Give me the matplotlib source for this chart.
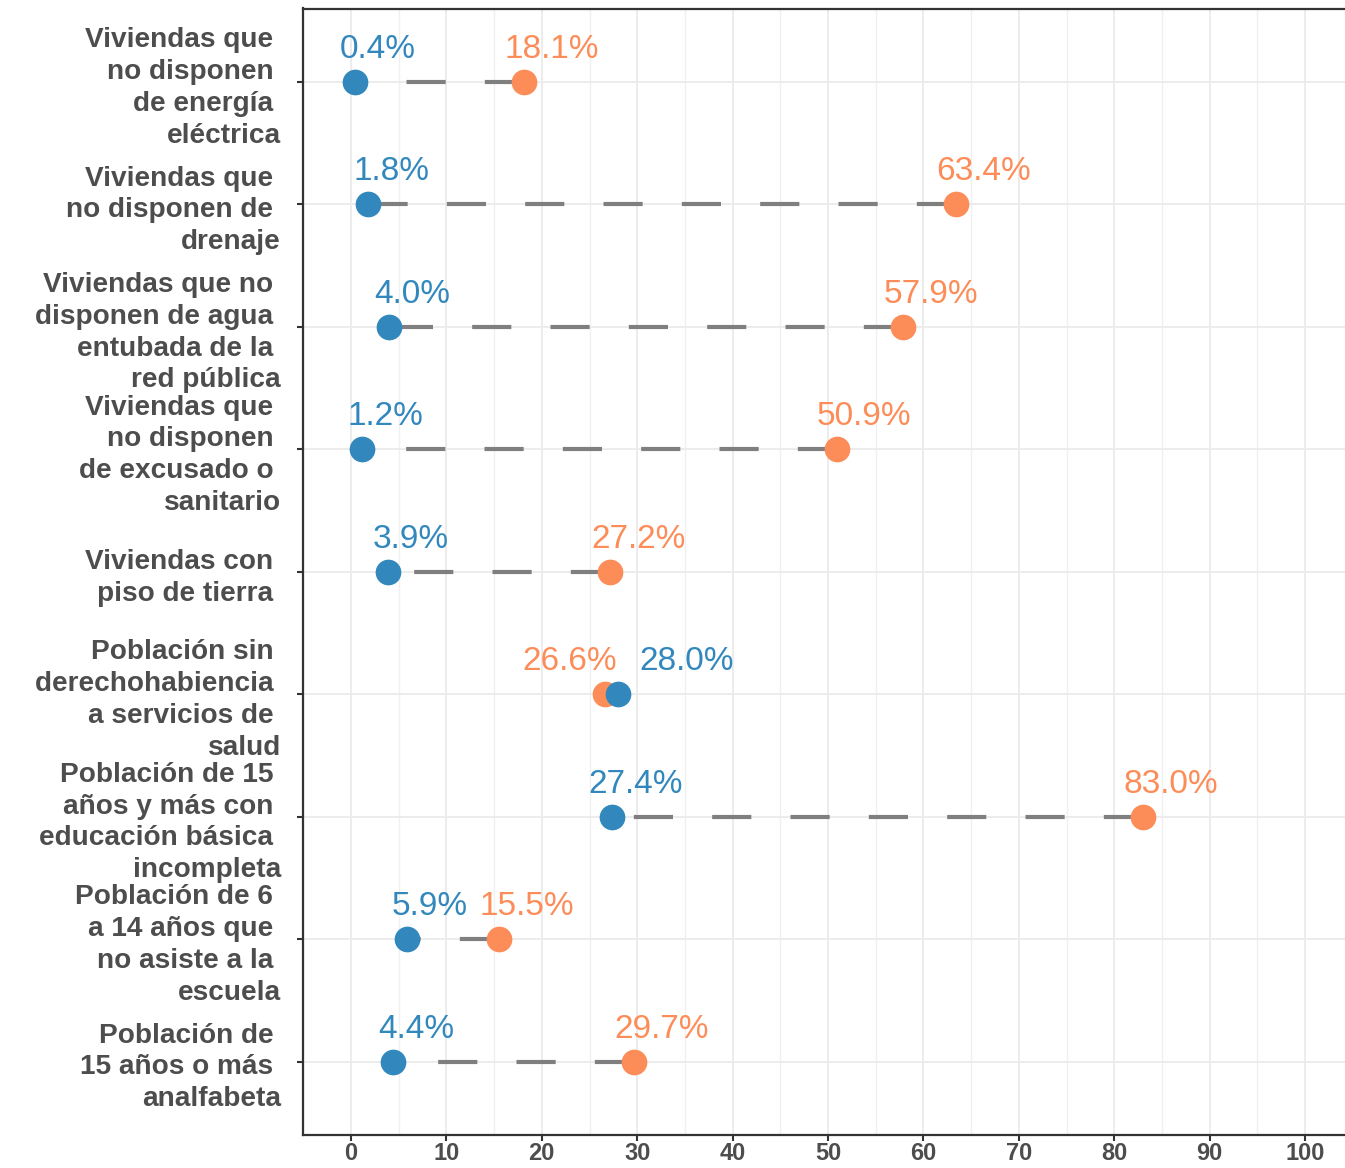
import matplotlib
matplotlib.use("Agg")
import matplotlib.pyplot as plt
from matplotlib.ticker import MultipleLocator

categories = [
    "Viviendas que \nno disponen \nde energía \neléctrica",
    "Viviendas que \nno disponen de \ndrenaje",
    "Viviendas que no \ndisponen de agua \nentubada de la \nred pública",
    "Viviendas que \nno disponen \nde excusado o \nsanitario",
    "Viviendas con \npiso de tierra ",
    "Población sin \nderechohabiencia \na servicios de \nsalud",
    "Población de 15 \naños y más con \neducación básica \nincompleta",
    "Población de 6 \na 14 años que \nno asiste a la \nescuela",
    "Población de \n15 años o más \nanalfabeta",
]
blue_values = [0.4, 1.8, 4.0, 1.2, 3.9, 28.0, 27.4, 5.9, 4.4]
orange_values = [18.1, 63.4, 57.9, 50.9, 27.2, 26.6, 83.0, 15.5, 29.7]
blue_label_nudge = [2.4, 2.4, 2.4, 2.4, 2.4, 7.2, 2.4, 2.4, 2.4]
orange_label_nudge = [2.9, 2.9, 2.9, 2.9, 2.9, -3.7, 2.9, 2.9, 2.9]
x_ticks = list(range(0, 101, 10))

BLUE = "#3288BD"
ORANGE = "#FC8D59"
TXT = "#4D4D4D"
FAM = ["Liberation Sans", "DejaVu Sans"]

W, H = 1345, 1168
fig = plt.figure(figsize=(W / 100, H / 100), dpi=100)
x0, x1 = -5, 105
left_px, right_px = 351 - 5 * 9.54, 351 + 105 * 9.54
top_px, bot_px = 8.5, 1135
ax = fig.add_axes([left_px / W, 1 - bot_px / H, (right_px - left_px) / W, (bot_px - top_px) / H])

plt.rcParams["font.family"] = FAM

ypos = list(range(1, len(categories) + 1))

for y, b, o in zip(ypos, blue_values, orange_values):
    ax.plot([o, b], [y, y], color="#7F7F7F", lw=3.0, linestyle=(0, (9.4, 9.4)),
            solid_capstyle="butt", dash_capstyle="butt", zorder=2)

ax.scatter(orange_values, ypos, s=18.5 ** 2, color=ORANGE, zorder=3, linewidths=0)
ax.scatter(blue_values, ypos, s=18.5 ** 2, color=BLUE, zorder=4, linewidths=0)

for y, b, o, nb, no in zip(ypos, blue_values, orange_values, blue_label_nudge, orange_label_nudge):
    ax.text(b + nb, y - 0.196, f"{b:.1f}%", color=BLUE, fontsize=24, ha="center",
            va="baseline", family=FAM, zorder=5)
    ax.text(o + no, y - 0.196, f"{o:.1f}%", color=ORANGE, fontsize=24, ha="center",
            va="baseline", family=FAM, zorder=5)

ax.set_xlim(x0, x1)
ax.set_ylim(len(categories) + 0.6, 0.4)
ax.set_xticks(x_ticks)
ax.set_xticklabels([str(t) for t in x_ticks], fontsize=17.0, fontweight="bold", color=TXT,
                   family=FAM)
ax.xaxis.set_minor_locator(MultipleLocator(5))
ax.set_yticks(ypos)
ax.set_yticklabels(categories, fontsize=20.2, fontweight="bold", color=TXT,
                   family=FAM, linespacing=1.29, ha="right")

ax.grid(which="major", axis="both", color="#EBEBEB", lw=1.3, zorder=0)
ax.grid(which="minor", axis="x", color="#F0F0F0", lw=1.0, zorder=0)
ax.set_axisbelow(True)

for s in ["left", "bottom", "top"]:
    ax.spines[s].set_color("#333333")
    ax.spines[s].set_linewidth(1.6)
ax.spines["right"].set_visible(False)

ax.tick_params(axis="both", which="major", direction="out", length=4, width=1.5, color="#333333")
ax.tick_params(axis="y", pad=12)
ax.tick_params(axis="x", pad=0.8)
ax.tick_params(axis="x", which="minor", length=0)

fig.savefig("out.png", dpi=100)
